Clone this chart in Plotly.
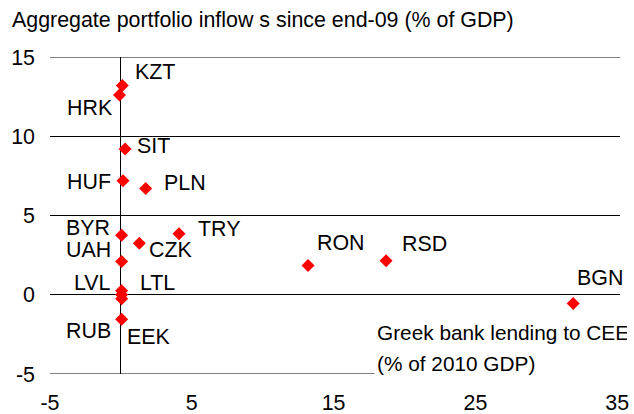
import plotly.graph_objects as go

# ---- data ----
currencies = ["KZT", "HRK", "SIT", "HUF", "PLN", "BYR", "TRY", "CZK", "UAH",
              "LVL", "LTL", "EEK", "RUB", "RON", "RSD", "BGN"]
greek_lending = [0.1, -0.1, 0.3, 0.15, 1.75, 0.05, 4.1, 1.3, 0.05,
                 0.05, 0.05, 0.05, 0.05, 13.2, 18.7, 31.9]
portfolio_inflows = [13.2, 12.6, 9.2, 7.2, 6.7, 3.75, 3.85, 3.25, 2.1,
                     0.25, 0.0, -0.25, -1.55, 1.85, 2.15, -0.55]
x_ticks = [-5, 5, 15, 25, 35]
y_ticks = [-5, 0, 5, 10, 15]

# label offsets in pixels (dx, dy-up)
label_shift = {
    "KZT": (33, 14), "HRK": (-29, -13), "SIT": (28, 3), "HUF": (-34, -1),
    "PLN": (39, 6), "BYR": (-34, 7), "TRY": (40, 5), "CZK": (32, -7),
    "UAH": (-33, 11), "LVL": (-29, 8), "LTL": (36, 12), "EEK": (27, -38),
    "RUB": (-33, -12), "RON": (33, 22), "RSD": (38, 17), "BGN": (27, 25),
}

FONT = "Liberation Sans, Arial, sans-serif"
FS = 21.4
FS_XT = 20.8

fig = go.Figure()
fig.add_trace(go.Scatter(
    x=greek_lending, y=portfolio_inflows, mode="markers",
    marker=dict(symbol="diamond", size=10, color="#FF0000", line=dict(width=0)),
    showlegend=False, cliponaxis=False, hoverinfo="skip",
))

annotations = []
for name, xv, yv in zip(currencies, greek_lending, portfolio_inflows):
    dx, dy = label_shift[name]
    annotations.append(dict(
        x=xv, y=yv, xref="x", yref="y", text=name, showarrow=False,
        xshift=dx, yshift=dy, font=dict(family=FONT, size=FS, color="black"),
        xanchor="center", yanchor="middle",
    ))

# x-axis title box (white background hides the bottom line)
for txt, yp in [("Greek bank lending to CEE", (374 - 332) / 317),
                ("(% of 2010 GDP)", (374 - 363) / 317)]:
    annotations.append(dict(
        x=(374 - 50) / 570, y=yp, xref="paper", yref="paper", text=txt,
        showarrow=False, xanchor="left", yanchor="middle", align="left",
        width=250, bgcolor="white", borderpad=2,
        font=dict(family=FONT, size=FS_XT, color="black"),
    ))

# frame lines at the top and bottom of the value range
shapes = [dict(type="line", xref="paper", x0=0, x1=1, yref="y", y0=v, y1=v,
               line=dict(color="black", width=1), layer="below")
          for v in (y_ticks[0], y_ticks[-1])]

fig.update_layout(
    width=634, height=414,
    margin=dict(l=50, r=14, t=57, b=40, autoexpand=False),
    paper_bgcolor="white", plot_bgcolor="white",
    font=dict(family=FONT, size=FS, color="black"),
    title=dict(text="Aggregate portfolio inflow s since end-09 (% of GDP)",
               x=12 / 634, xanchor="left", y=1 - 20 / 414, yanchor="middle",
               font=dict(family=FONT, size=FS, color="black")),
    annotations=annotations,
    shapes=shapes,
    showlegend=False,
)
fig.update_xaxes(
    range=[-5, 35.2], tickvals=x_ticks, ticktext=[str(v) for v in x_ticks],
    showgrid=False, zeroline=True, zerolinecolor="black", zerolinewidth=1,
    showline=False, ticks="", ticklabelstandoff=14, automargin=False,
    tickfont=dict(family=FONT, size=FS, color="black"),
)
fig.update_yaxes(
    range=[-5, 15], tickvals=y_ticks, ticktext=[str(v) for v in y_ticks],
    showgrid=True, gridcolor="black", gridwidth=1,
    zeroline=True, zerolinecolor="black", zerolinewidth=1,
    showline=False, ticks="", ticklabelstandoff=14, automargin=False,
    tickfont=dict(family=FONT, size=FS, color="black"),
)

fig.write_html("out.html",
               config={"displayModeBar": False, "staticPlot": True},
               post_script="document.body.style.margin='0';"
                           "document.body.style.overflow='hidden';")
